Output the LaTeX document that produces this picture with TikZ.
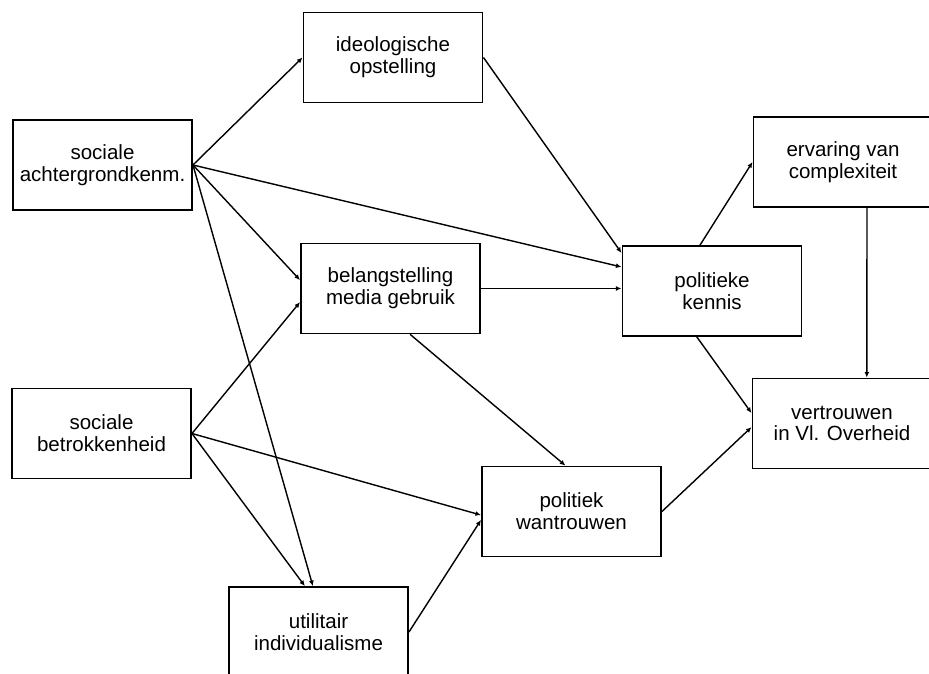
\documentclass[tikz,border=0pt]{standalone}
\usepackage{fontspec}
\setmainfont{Liberation Sans}
\usetikzlibrary{positioning,arrows.meta}

\begin{document}
\begin{tikzpicture}[
		x=0.025cm, y=-0.025cm,
		every text node part/.style={align=center},
		every edge/.append style={-{Latex[length=4pt,width=3.5pt]}, line width=1pt},
		factor/.style={draw, line width=1.2pt, minimum width=4.48cm, minimum height=2.25cm,
			inner sep=0pt, font=\fontsize{14.6}{15.5}\selectfont}
	]
	\useasboundingbox (0,0) rectangle (929,674);
	\clip (0,0) rectangle (929,674);

	% left column
	\node(sa)[factor] at (102.5,165) {sociale\\achtergrondkenm.};
	\node(sb)[factor] at (101.5,433.5) {sociale\\betrokkenheid};

	% middle
	\node(ideo)[factor] at (393,57.5) {ideologische\\opstelling};
	\node(belang)[factor] at (390.5,288.5) {belangstelling\\media gebruik};
	\node(util)[factor] at (318.5,632) {utilitair\\individualisme};
	\node(pw)[factor] at (571.5,511.5) {politiek\\wantrouwen};
	\node(pk)[factor] at (712,291) {politieke\\kennis};

	% right column
	\node(erv)[factor] at (843,162) {ervaring van\\complexiteit};
	\node(vert)[factor] at (842,423.5) {vertrouwen\\in Vl. Overheid};

	\path (sa.east) edge (ideo.west);
	\path (sa.east) edge ([yshift=0.6cm]pk.west);
	\path (sa.east) edge ([yshift=0.21cm]belang.west);
	\path (sa.east) edge ([xshift=-0.14cm]util.north);

	\path (sb.east) edge ([yshift=-0.34cm]belang.west);
	\path (sb.east) edge ([xshift=-0.34cm]util.north);
	\path (sb.east) edge ([yshift=-0.09cm]pw.west);

	\path (ideo.east) edge ([yshift=0.95cm]pk.west);
	\path (belang.east) edge (belang.east -| pk.west);
	\path ([xshift=0.49cm]belang.south) edge ([xshift=-0.15cm]pw.north);
	\path (util.east) edge ([yshift=-0.21cm]pw.west);

	\path ([xshift=-0.3cm]pk.north) edge (erv.west);
	\path ([xshift=-0.38cm]pk.south) edge ([yshift=0.26cm]vert.west);
	\path (pw.east) edge ([yshift=-0.09cm]vert.west);
	\path ([xshift=0.6cm]erv.south) edge ([xshift=0.62cm]vert.north);
\end{tikzpicture}
\end{document}
